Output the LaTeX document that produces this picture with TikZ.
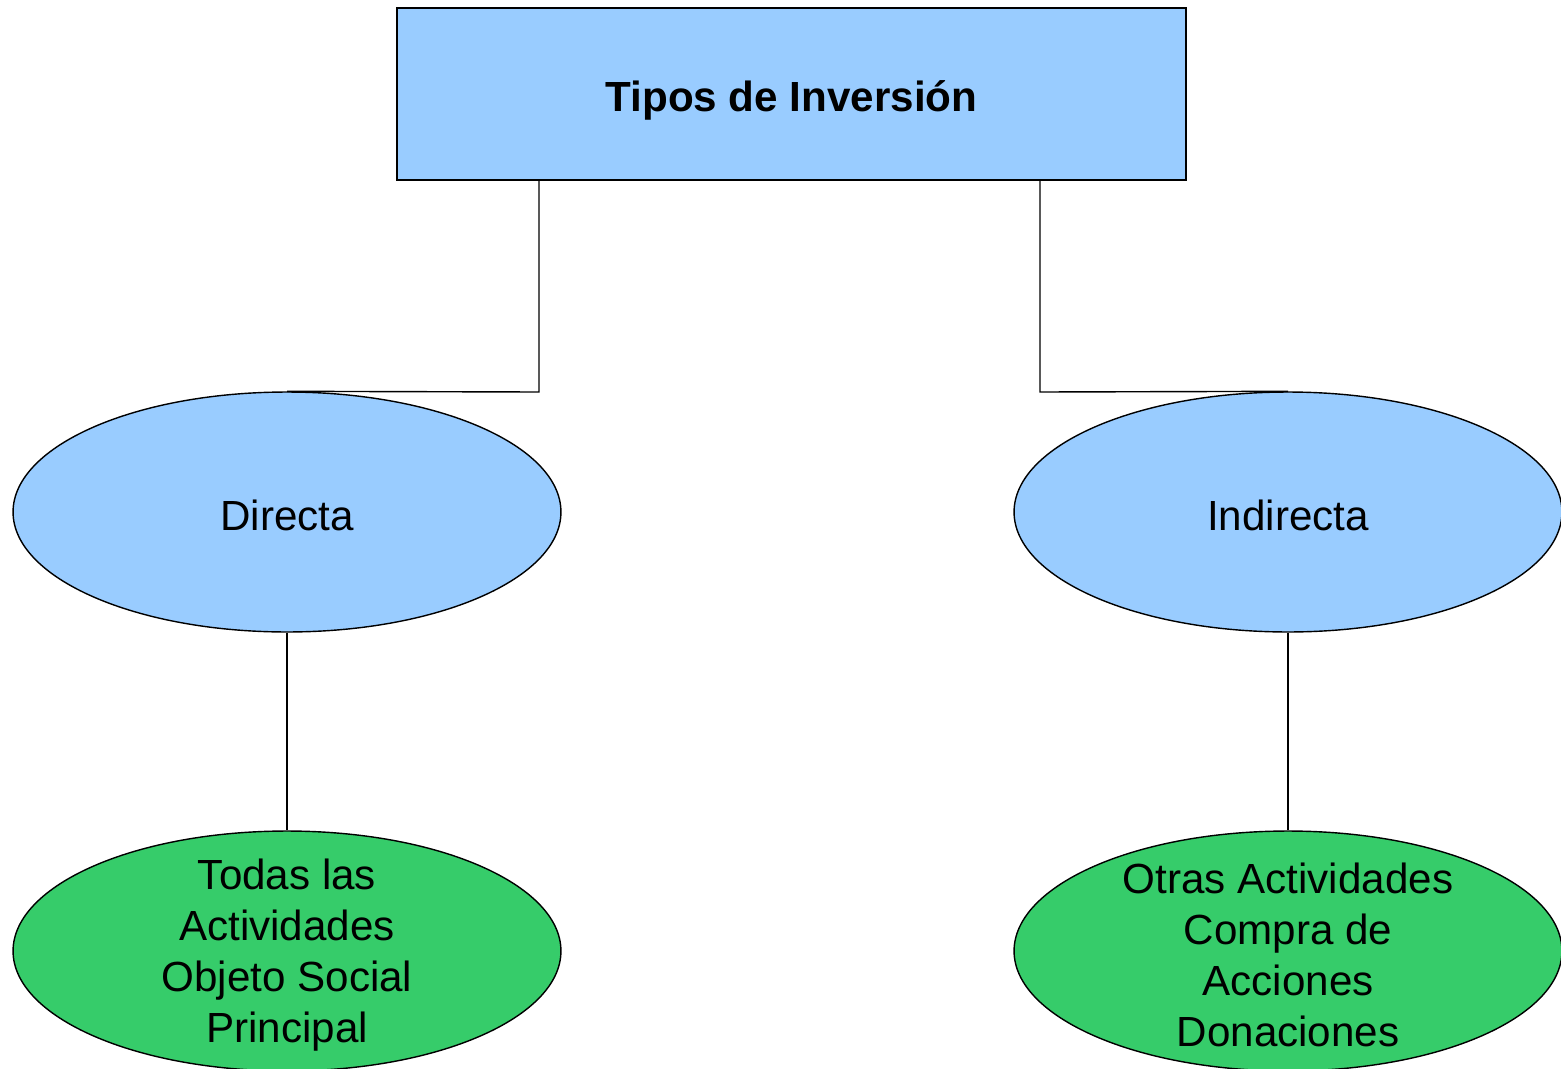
\documentclass[tikz,border=0pt]{standalone}
\usepackage{fontspec}
\setmainfont{Liberation Sans}
\usepackage{tikz}
\usetikzlibrary{positioning}
\usetikzlibrary{shapes.geometric}

\definecolor{boxblue}{HTML}{99CCFF}
\definecolor{leafgreen}{HTML}{36CC6A}

\newcommand{\lowered}[2]{\raisebox{-#1}[\height][\depth]{#2}}

\begin{document}
\begin{tikzpicture}
 [ x=0.02cm
 , y=-0.02cm
 , line width=0.8pt
 , every node/.style={font=\fontsize{24}{29}\selectfont, align=center, inner sep=0pt}
 , topbox/.style={draw, fill=boxblue, minimum width=15.78cm, minimum height=3.44cm}
 , kind/.style={draw, ellipse, fill=boxblue, minimum width=10.96cm, minimum height=4.8cm}
 , leaf/.style={draw, ellipse, fill=leafgreen, minimum width=10.96cm, minimum height=4.8cm}
 , leaftext/.style={yshift=-0.08cm}
 ]
  \useasboundingbox (0,0) rectangle (1561,1068);

  \node [topbox] (tipos) at (791.5,94) {\lowered{0.12cm}{\textbf{Tipos de Inversión}}};

  \node [kind] (directa) at (287,512) {\lowered{0.06cm}{Directa}};
  \node [kind] (indirecta) at (1288,512) {\lowered{0.06cm}{Indirecta}};

  \node [leaf, label={[leaftext]center:Todas las\\Actividades\\Objeto Social\\Principal}]
    (todas) at (287,951) {};
  \node [leaf, label={[leaftext]center:Otras Actividades\\Compra de\\Acciones\\Donaciones}]
    (otras) at (1288,951) {};

  % connectors
  \coordinate (lelbow) at (539,392);
  \coordinate (relbow) at (1040,392);
  \draw (tipos.south -| lelbow) -- (lelbow) -- (directa.north);
  \draw (tipos.south -| relbow) -- (relbow) -- (indirecta.north);
  \draw (directa.south) -- (todas.north);
  \draw (indirecta.south) -- (otras.north);
\end{tikzpicture}
\end{document}
